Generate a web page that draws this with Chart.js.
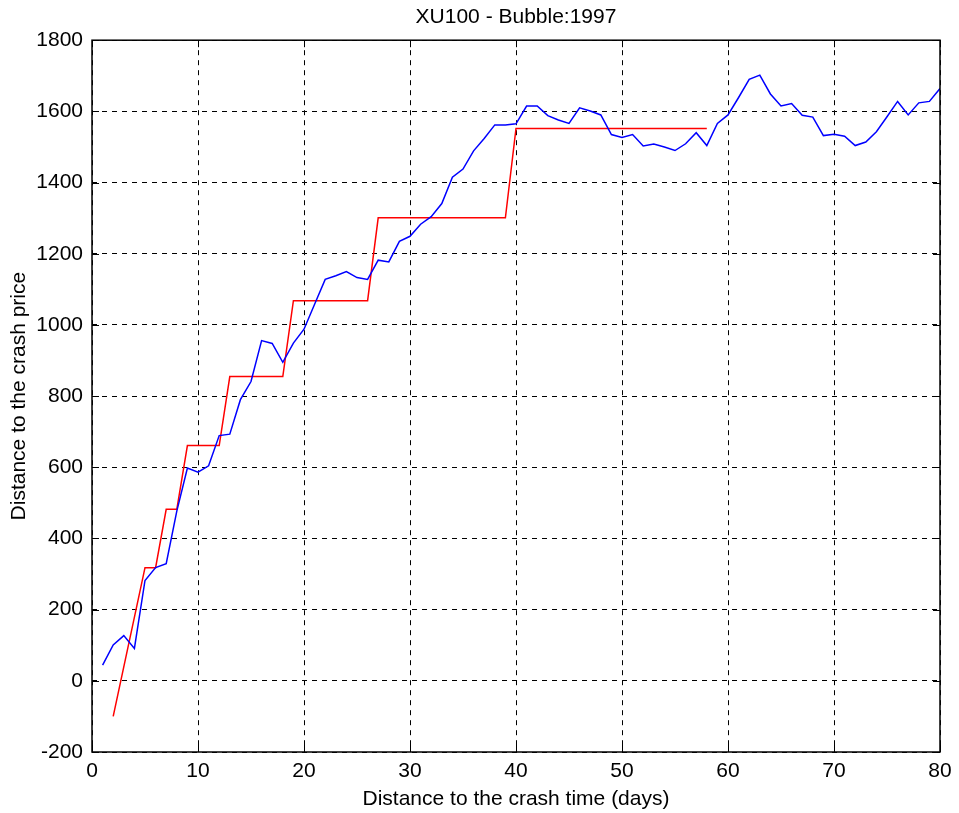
<!DOCTYPE html>
<html>
<head>
<meta charset="utf-8">
<script src="https://cdn.jsdelivr.net/npm/chart.js@4"></script>
<style>
  html, body { margin: 0; padding: 0; background: #fff; }
  #wrap { width: 959px; height: 813px; }
</style>
</head>
<body>
<div id="wrap"><canvas id="c" width="959" height="813"></canvas></div>
<script>
// ---- data ----
const days = [1,2,3,4,5,6,7,8,9,10,11,12,13,14,15,16,17,18,19,20,
  21,22,23,24,25,26,27,28,29,30,31,32,33,34,35,36,37,38,39,40,
  41,42,43,44,45,46,47,48,49,50,51,52,53,54,55,56,57,58,59,60,
  61,62,63,64,65,66,67,68,69,70,71,72,73,74,75,76,77,78,79,80];
const price = [44,101,127,91,282,318,329,477,598,586,604,689,693,790,841,956,948,895,949,988,
  1058,1128,1138,1150,1133,1128,1182,1177,1235,1249,1283,1304,1341,1415,1438,1489,1524,1562,1562,1565,
  1615,1615,1588,1576,1566,1610,1601,1590,1535,1527,1535,1503,1508,1500,1490,1509,1540,1504,1566,1590,
  1639,1690,1702,1649,1615,1622,1589,1584,1532,1536,1530,1504,1514,1543,1585,1628,1590,1624,1628,1664];
const stepDays = [2,5,6,7,8,9,12,13,18,19,26,27,39,40,58];
const stepPrice = [-100,318,318,482,482,661,661,855,855,1068,1068,1301,1301,1552,1552];
const xTicks = [0,10,20,30,40,50,60,70,80];
const yTicks = [-200,0,200,400,600,800,1000,1200,1400,1600,1800];
const titleText = 'XU100 - Bubble:1997';
const xLabel = 'Distance to the crash time (days)';
const yLabel = 'Distance to the crash price';

const FONT = "'Liberation Sans', Arial, Helvetica, sans-serif";
const FS = 21;

const framePlugin = {
  id: 'frame',
  afterLayout(chart) {
    const a = chart.chartArea;
    if (chart.titleBlock) {
      chart.titleBlock.left = a.left;
      chart.titleBlock.right = a.right;
      chart.titleBlock.width = a.right - a.left;
    }
  },
  afterDraw(chart) {
    const {ctx, chartArea: a, scales: {x, y}} = chart;
    ctx.save();
    ctx.setLineDash([]);
    ctx.strokeStyle = '#000';
    ctx.lineWidth = 1.5;
    ctx.strokeRect(a.left, a.top, a.right - a.left, a.bottom - a.top);
    ctx.lineWidth = 1;
    const L = 7;
    ctx.beginPath();
    x.ticks.forEach(t => {
      const px = Math.round(x.getPixelForValue(t.value)) + 0.5;
      ctx.moveTo(px, a.bottom); ctx.lineTo(px, a.bottom - L);
      ctx.moveTo(px, a.top); ctx.lineTo(px, a.top + L);
    });
    y.ticks.forEach(t => {
      const py = Math.round(y.getPixelForValue(t.value)) + 0.5;
      ctx.moveTo(a.left, py); ctx.lineTo(a.left + L, py);
      ctx.moveTo(a.right, py); ctx.lineTo(a.right - L, py);
    });
    ctx.stroke();
    ctx.restore();
  }
};

new Chart(document.getElementById('c'), {
  type: 'line',
  data: {
    datasets: [
      {
        data: days.map((d, i) => ({x: d, y: price[i]})),
        borderColor: '#0000ff',
        borderWidth: 1.5,
        pointRadius: 0,
        tension: 0,
        fill: false
      },
      {
        data: stepDays.map((d, i) => ({x: d, y: stepPrice[i]})),
        borderColor: '#ff0000',
        borderWidth: 1.5,
        pointRadius: 0,
        tension: 0,
        fill: false
      }
    ]
  },
  options: {
    responsive: false,
    animation: false,
    layout: { padding: { left: 0, right: 19, top: 0, bottom: 0 } },
    plugins: {
      legend: { display: false },
      tooltip: { enabled: false },
      title: {
        display: true,
        text: titleText,
        color: '#000',
        font: { family: FONT, size: FS, weight: 'normal', lineHeight: 1.2 },
        padding: { top: 5, bottom: 10 }
      }
    },
    scales: {
      x: {
        type: 'linear',
        min: 0, max: 80,
        afterBuildTicks(s) { s.ticks = xTicks.map(v => ({value: v})); },
        afterFit(s) { s.height = 61; },
        grid: { color: '#000', lineWidth: 1, drawTicks: false },
        border: { display: false, dash: [5, 5] },
        ticks: { color: '#000', font: { family: FONT, size: FS }, padding: 7, maxRotation: 0, autoSkip: false,
                 callback: v => String(v) },
        title: { display: true, text: xLabel, color: '#000', font: { family: FONT, size: FS }, padding: { top: 0, bottom: 1 } }
      },
      y: {
        type: 'linear',
        min: -200, max: 1800,
        afterBuildTicks(s) { s.ticks = yTicks.map(v => ({value: v})); },
        afterFit(s) { s.width = 92; },
        grid: { color: '#000', lineWidth: 1, drawTicks: false },
        border: { display: false, dash: [5, 5] },
        ticks: { color: '#000', font: { family: FONT, size: FS }, padding: 9, autoSkip: false,
                 callback: v => String(v) },
        title: { display: true, text: yLabel, color: '#000', font: { family: FONT, size: FS }, padding: { top: 7, bottom: 0 } }
      }
    }
  },
  plugins: [framePlugin]
});
</script>
</body>
</html>
